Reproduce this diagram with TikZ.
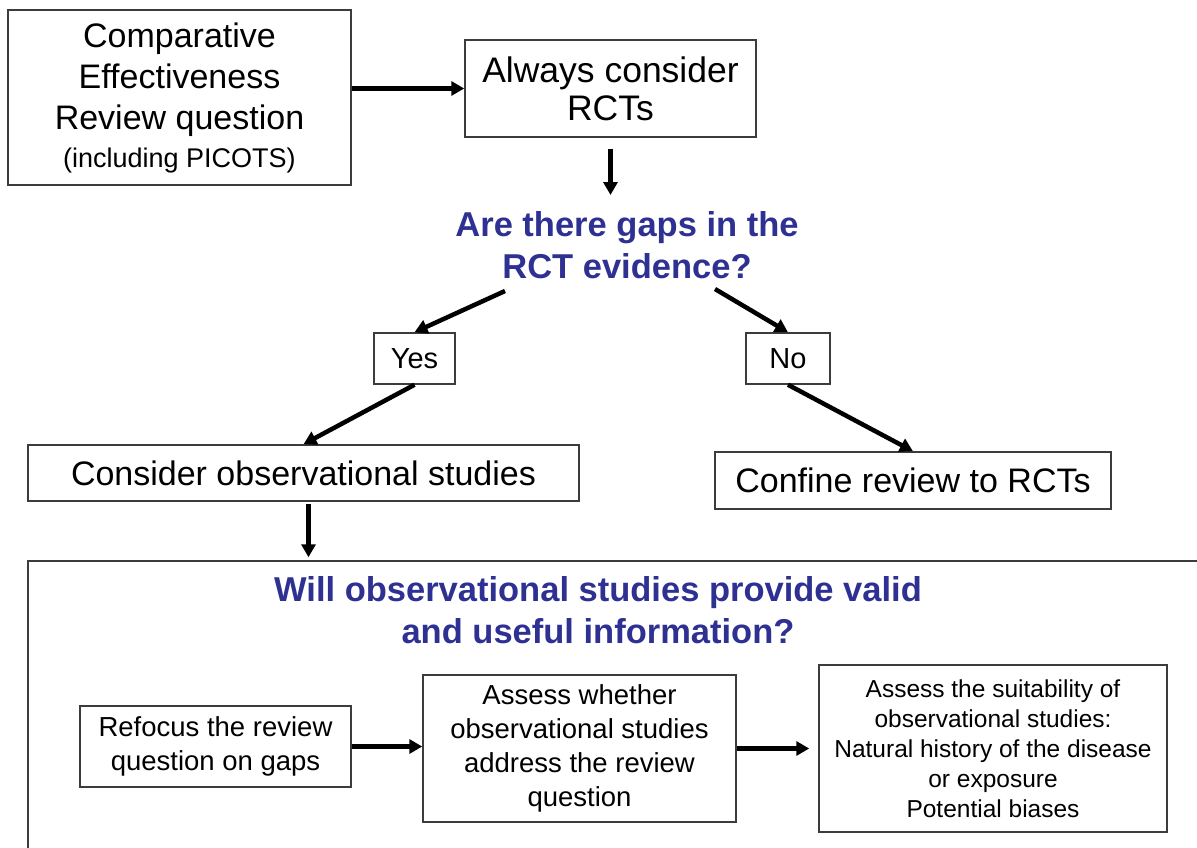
\documentclass[tikz,border=0pt]{standalone}
\usepackage{fontspec}
\setmainfont{Liberation Sans}
\usetikzlibrary{arrows.meta,positioning,calc}
\definecolor{qblue}{RGB}{46,49,146}
\definecolor{edgegray}{RGB}{60,60,60}

\begin{document}
\begin{tikzpicture}[
    x=1pt, y=-1pt,
    box/.style={rectangle, draw=edgegray, line width=1.5pt, align=center, inner sep=2pt},
    big/.style={font=\fontsize{34}{41}\selectfont},
    mid/.style={font=\fontsize{27.5}{34}\selectfont},
    small/.style={font=\fontsize{24.5}{30}\selectfont},
    question/.style={align=center, text=qblue, font=\fontsize{34.5}{42}\selectfont\bfseries},
    arr/.style={-{Triangle[length=13pt,width=14pt]}, line width=4.5pt}
]
    \useasboundingbox (0,0) rectangle (1197,848);
    \clip (0,0) rectangle (1197,848);

    % top row
    \node[box, big, minimum width=343pt, minimum height=175pt] (crq) at (179.5,97.5)
        {Comparative\\Effectiveness\\Review question\\[-3pt]{\fontsize{27}{34}\selectfont (including PICOTS)}};
    \node[box, font=\fontsize{35.5}{38}\selectfont, minimum width=291pt, minimum height=97pt] (always) at (610.5,88.5)
        {Always consider\\RCTs};

    % first question
    \node[question] (gaps) at (627,245) {Are there gaps in the\\RCT evidence?};
    \coordinate (gl) at (505,291);
    \coordinate (gr) at (715,289);

    \node[box, font=\fontsize{29}{34}\selectfont, minimum width=81pt, minimum height=51pt] (yes) at (414.5,358.5) {Yes};
    \node[box, font=\fontsize{29}{34}\selectfont, minimum width=84pt, minimum height=51pt] (no) at (788,358.5) {No};

    \node[box, big, minimum width=551pt, minimum height=56pt] (consider) at (303.5,473) {Consider observational studies};
    \node[box, big, minimum width=396pt, minimum height=57pt] (confine) at (913,480.5) {Confine review to RCTs};

    % second question
    \node[box, minimum width=1182pt, minimum height=299pt] (valid) at (619,710.5) {};
    \node[question] (useful) at (598,610) {Will observational studies provide valid\\and useful information?};

    \node[box, mid, minimum width=271pt, minimum height=81pt] (refocus) at (215.5,746.5)
        {Refocus the review\\question on gaps};
    \node[box, mid, minimum width=313pt, minimum height=147pt] (assess) at (579.5,748.5)
        {Assess whether\\observational studies\\address the review\\question};
    \node[box, small, minimum width=348pt, minimum height=167pt] (suit) at (993,748.5)
        {Assess the suitability of\\observational studies:\\Natural history of the disease\\or exposure\\Potential biases};

    \draw[arr] (crq.east |- always.west) -- (always.west);
    \draw[arr, shorten <=11pt] (always.south) -- (always.south |- 0,195);
    \draw[arr] (gl) -- (yes.north);
    \draw[arr] (gr) -- (no.north);
    \draw[arr] (yes.south) -- (consider.north);
    \draw[arr] (no.south) -- (confine.north);
    \draw[arr, shorten <=2pt, shorten >=3pt] ([xshift=5pt]consider.south) -- ([xshift=5pt]consider.south |- valid.north);
    \draw[arr] (refocus.east) -- (refocus.east -| assess.west);
    \draw[arr, shorten >=9pt] (assess.east) -- (assess.east -| suit.west);
\end{tikzpicture}
\end{document}
